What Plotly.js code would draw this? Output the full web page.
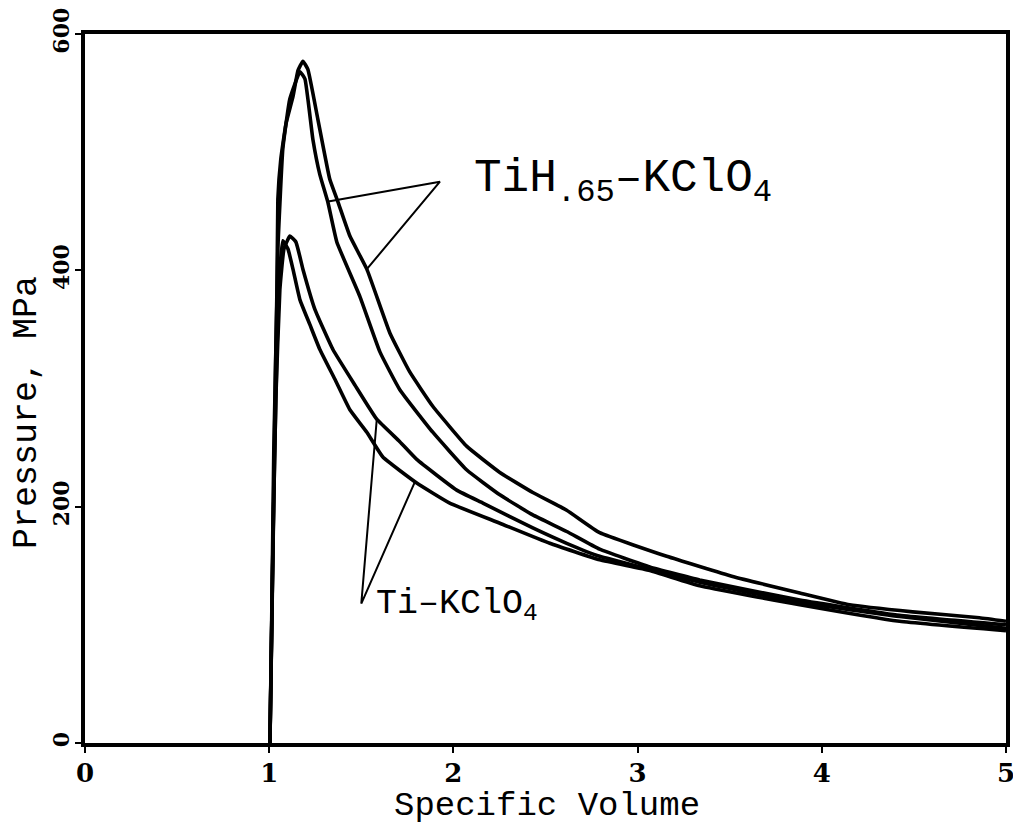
<!DOCTYPE html>
<html>
<head>
<meta charset="utf-8">
<script src="https://cdn.plot.ly/plotly-3.0.1.min.js"></script>
<style>html,body{margin:0;padding:0;background:#fff;}#chart{width:1013px;height:827px;}</style>
</head>
<body>
<div id="chart"></div>
<script>
// TiH.65-KClO4, run A (outer curve)
const tihA_x = [1.004,1.015,1.025,1.042,1.047,1.063,1.091,1.129,1.156,1.183,1.210,1.264,1.329,1.373,1.438,1.530,1.655,1.763,1.888,2.073,2.252,2.431,2.615,2.794,3.158,3.516,3.880,4.151,4.493,4.856,5.0];
const tihA_y = [0,121,248,375,460,494,524,547,569,577,570,528,477,458,429,401,347,314,285,251,229,212,197,178,158,141,127,117,111,106,103];
// TiH.65-KClO4, run B (inner curve)
const tihB_x = [1.004,1.020,1.036,1.047,1.074,1.112,1.167,1.194,1.237,1.275,1.318,1.367,1.492,1.601,1.709,1.888,2.073,2.252,2.431,2.615,2.794,3.066,3.337,3.880,4.422,5.0];
const tihB_y = [0,164,333,418,503,545,568,562,511,481,458,424,378,331,299,263,231,210,193,179,164,149,138,121,108,100];
// Ti-KClO4, run C
const tiC_x = [1.004,1.020,1.036,1.058,1.080,1.112,1.145,1.183,1.248,1.346,1.465,1.584,1.709,1.801,2.018,2.160,2.431,2.615,2.794,3.066,3.337,3.880,4.422,5.0];
const tiC_y = [0,164,291,384,418,429,424,401,367,333,303,274,255,240,214,203,182,169,158,147,136,119,107,97];
// Ti-KClO4, run D
const tiD_x = [1.004,1.025,1.042,1.058,1.074,1.102,1.129,1.167,1.221,1.275,1.356,1.438,1.530,1.617,1.801,1.980,2.252,2.523,2.794,3.066,3.337,3.880,4.422,5.0];
const tiD_y = [0,206,333,401,425,418,401,375,354,333,308,282,263,242,220,203,186,169,155,146,133,117,103,95];

// label leader lines (endpoint on curve, apex, endpoint on curve)
const leadTiH_x = [1.313,1.927,1.530];
const leadTiH_y = [458,475,401];
const leadTi_x = [1.584,1.500,1.791];
const leadTi_y = [274,118,221];

const labelTiH = 'TiH<sub>.65</sub>–KClO<sub>4</sub>';
const labelTi = 'Ti–KClO<sub>4</sub>';
const labelTiH_pos = [2.10, 475];
const labelTi_pos = [1.57, 116];
const xTitle = 'Specific Volume';
const yTitle = 'Pressure, MPa';

const xTicks = [0,1,2,3,4,5];
const yTicks = [0,200,400,600];

const curveLine = {color:'#000', width:3.6, shape:'spline', smoothing:0.35};
const leadLine = {color:'#000', width:2};
const traces = [
  {x:tihA_x, y:tihA_y, mode:'lines', line:curveLine, name:'TiH.65-KClO4 A'},
  {x:tihB_x, y:tihB_y, mode:'lines', line:curveLine, name:'TiH.65-KClO4 B'},
  {x:tiC_x, y:tiC_y, mode:'lines', line:curveLine, name:'Ti-KClO4 C'},
  {x:tiD_x, y:tiD_y, mode:'lines', line:curveLine, name:'Ti-KClO4 D'},
  {x:leadTiH_x, y:leadTiH_y, mode:'lines', line:leadLine, name:'lead1'},
  {x:leadTi_x, y:leadTi_y, mode:'lines', line:leadLine, name:'lead2'}
];

const mono = 'Liberation Mono';
const tickFam = 'DejaVu Serif';
const plotW = 1013 - 85 - 7, plotH = 827 - 34 - 84;
const pxX = px => (px - 85) / plotW;          // pixel -> paper fraction (x)
const pxY = py => (827 - 84 - py) / plotH;    // pixel -> paper fraction (y)

const layout = {
  width:1013, height:827,
  margin:{l:85, r:7, t:34, b:84},
  paper_bgcolor:'#fff', plot_bgcolor:'#fff',
  showlegend:false,
  font:{family:mono, color:'#000', size:22},
  xaxis:{
    range:[0,5], tickvals:xTicks, ticktext:xTicks.map(String),
    showgrid:false, zeroline:false, showline:true, mirror:true,
    linecolor:'#000', linewidth:4,
    ticks:'outside', ticklen:6, tickwidth:2, tickcolor:'#000',
    ticklabeloverflow:'allow', ticklabelstandoff:-2,
    tickfont:{family:tickFam, size:26, color:'#000', weight:700}
  },
  yaxis:{
    range:[0,600], tickvals:yTicks, ticktext:yTicks.map(String),
    showgrid:false, zeroline:false, showline:true, mirror:true,
    linecolor:'#000', linewidth:4,
    ticks:'outside', ticklen:6, tickwidth:2, tickcolor:'#000',
    ticklabeloverflow:'allow', ticklabelstandoff:-3,
    tickangle:-90,
    tickfont:{family:tickFam, size:22, color:'#000', weight:700}
  },
  annotations:[
    {x:labelTiH_pos[0], y:labelTiH_pos[1], xref:'x', yref:'y', text:labelTiH, showarrow:false,
     xanchor:'left', yanchor:'middle', font:{family:mono, size:46, color:'#000'}},
    {x:labelTi_pos[0], y:labelTi_pos[1], xref:'x', yref:'y', text:labelTi, showarrow:false,
     xanchor:'left', yanchor:'middle', font:{family:mono, size:35, color:'#000'}},
    {x:pxX(27), y:pxY(413), xref:'paper', yref:'paper', text:yTitle, showarrow:false, textangle:-90,
     xanchor:'center', yanchor:'middle', font:{family:mono, size:35, color:'#000'}},
    {x:pxX(547), y:pxY(806), xref:'paper', yref:'paper', text:xTitle, showarrow:false,
     xanchor:'center', yanchor:'middle', font:{family:mono, size:34, color:'#000'}}
  ]
};
Plotly.newPlot('chart', traces, layout, {staticPlot:true, displayModeBar:false});
</script>
</body>
</html>
